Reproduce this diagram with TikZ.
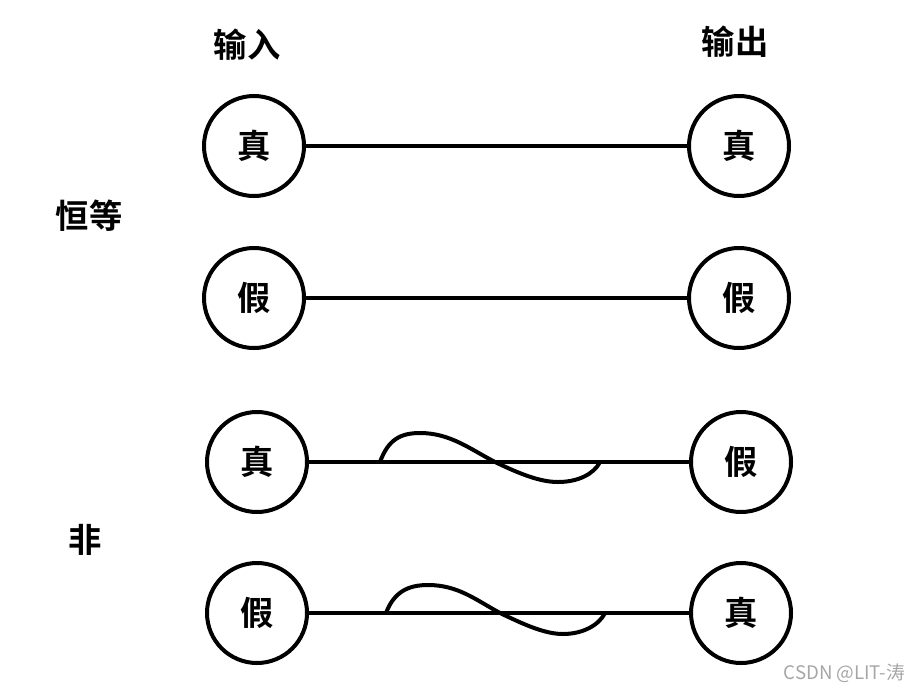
\documentclass[tikz,border=0pt]{standalone}
\usepackage{fontspec}
\usepackage{tikz}
\newfontfamily\cjkbold{Noto Sans CJK SC Bold}
\newfontfamily\cjkmark{Noto Sans CJK SC}
\colorlet{boolink}{black}
\colorlet{boolmark}{black!35}
\tikzset{
  boolstate/.style={
    circle,
    draw=boolink,
    line width=3pt,
    minimum size=75pt,
    inner sep=0pt,
    font=\cjkbold\fontsize{25}{25}\selectfont
  },
  boolwire/.style={line width=3pt,boolink},
  booltwist/.style={line width=3pt,boolink,line cap=round},
  boolhead/.style={font=\cjkbold\fontsize{25}{25}\selectfont,inner sep=0pt},
  boolmarkstyle/.style={font=\cjkmark\fontsize{14}{14}\selectfont,boolmark,inner sep=0pt}
}
\begin{document}
\begin{tikzpicture}[x=0.75pt,y=-0.75pt]
  \useasboundingbox (0,0) rectangle (919,692);

  % column heads and group labels
  \node[boolhead] (hin) at (247,45) {输入};
  \node[boolhead] (hout) at (735,42) {输出};
  \node[boolhead] (gid) at (89,216) {恒等};
  \node[boolhead] (gnot) at (85,540) {非};

  % identity
  \node[boolstate] (idin1) at (254,146) {真};
  \node[boolstate] (idout1) at (739,146) {真};
  \node[boolstate] (idin2) at (254,298) {假};
  \node[boolstate] (idout2) at (739,298) {假};
  \draw[boolwire] (idin1) -- (idout1);
  \draw[boolwire] (idin2) -- (idout2);

  % negation
  \node[boolstate] (notin1) at (257,462) {真};
  \node[boolstate] (notout1) at (741,462) {假};
  \node[boolstate] (notin2) at (257,613) {假};
  \node[boolstate] (notout2) at (741,613) {真};
  \draw[boolwire] (notin1) -- (notout1);
  \draw[boolwire] (notin2) -- (notout2);

  % twisted wires
  \coordinate (tw1a) at (380,462);
  \coordinate (tw1b) at (600,462);
  \coordinate (tw2a) at (386,613);
  \coordinate (tw2b) at (605,613);
  \draw[booltwist] (tw1a) .. controls (388,440) and (400,433) .. (420,433)
    .. controls (450,433) and (470,449) .. (495,462)
    .. controls (520,474) and (540,482) .. (558,482)
    .. controls (578,482) and (594,474) .. (tw1b);
  \draw[booltwist] (tw2a) .. controls (394,592) and (408,585) .. (428,585)
    .. controls (458,585) and (476,600) .. (500,613)
    .. controls (525,625) and (545,634) .. (563,634)
    .. controls (583,634) and (599,625) .. (tw2b);

  \node[boolmarkstyle,anchor=east] (mark) at (905,673) {CSDN @LIT-涛};
\end{tikzpicture}
\end{document}
